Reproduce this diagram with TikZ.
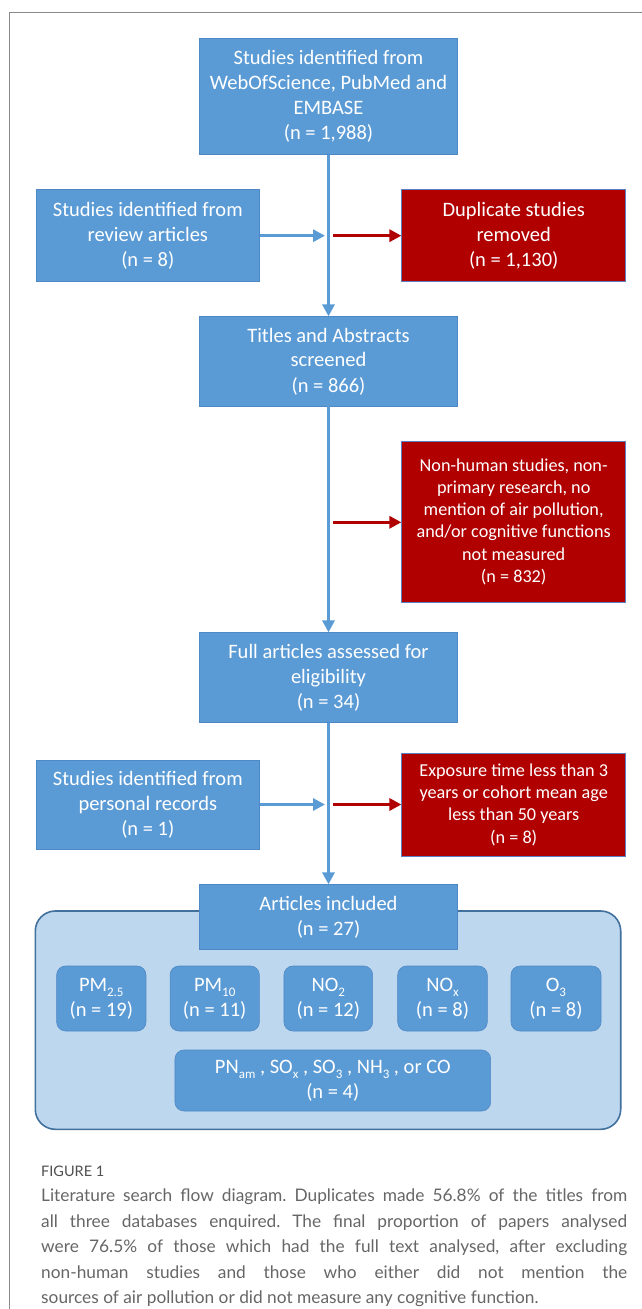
\documentclass[tikz,border=0pt]{standalone}
\usepackage{fontspec}
\setmainfont{Carlito}
\newfontfamily\capfont{Lato}
\usetikzlibrary{arrows.meta}
\definecolor{bluefill}{HTML}{5B9BD5}
\definecolor{blueedge}{HTML}{4F88C6}
\definecolor{redfill}{HTML}{B00000}
\definecolor{rededge}{HTML}{5B7FC0}
\definecolor{panelfill}{HTML}{BDD7EE}
\definecolor{paneledge}{HTML}{41719C}
\definecolor{framegray}{HTML}{8A8A8A}
\definecolor{capgray}{HTML}{666666}
\definecolor{figgray}{HTML}{505050}
\newcommand{\mysub}[1]{\raisebox{-0.28em}{\fontsize{13}{13}\selectfont #1}}
\frenchspacing
\tikzset{
  box/.style={fill=bluefill, draw=blueedge, line width=0.6pt, text=white, align=center,
    inner sep=0pt, font=\fontsize{20.5}{25}\selectfont},
  redbox/.style={fill=redfill, draw=rededge, line width=0.6pt, text=white, align=center,
    inner sep=0pt, font=\fontsize{18.2}{22.2}\selectfont},
  smallbox/.style={box, rounded corners=9pt, draw=blueedge},
  mainarrow/.style={draw=bluefill, line width=3.6pt, -{Triangle[length=12pt,width=12pt]}},
  bluearrow/.style={draw=bluefill, line width=3.4pt, -{Triangle[length=12pt,width=12pt]}},
  redarrow/.style={draw=redfill, line width=3.2pt, -{Triangle[length=12pt,width=12pt]}},
}
\begin{document}
\begin{tikzpicture}[x=1pt,y=-1pt]
\useasboundingbox (0,0) rectangle (641,1309);
\fill[white] (0,0) rectangle (641,1309);
% frame
\draw[framegray, line width=0.9pt] (9.3,1320) -- (9.3,12.7) -- (660,12.7);

% main column
\node[box, minimum width=258, minimum height=116] (b1) at (328.5,96.3)
  {Studies identified from\\WebOfScience, PubMed and\\EMBASE\\(n = 1,988)};
\node[box, minimum width=258, minimum height=89.3] (b2) at (328.5,361.3)
  {Titles and Abstracts\\screened\\(n = 866)};
\node[box, minimum width=258, minimum height=89.6] (b3) at (328.5,677.5)
  {Full articles assessed for\\eligibility\\(n = 34)};

% side boxes
\node[box, minimum width=223.7, minimum height=91.7] (l1) at (147.8,235.4)
  {Studies identified from\\review articles\\(n = 8)};
\node[redbox, font=\fontsize{20.5}{25}\selectfont, minimum width=224, minimum height=91.7] (r1) at (513.7,235.4)
  {Duplicate studies\\removed\\(n = 1,130)};
\node[redbox, minimum width=224, minimum height=161.3] (r2) at (513.7,521.7)
  {Non-human studies, non-\\primary research, no\\mention of air pollution,\\and/or cognitive functions\\not measured\\(n = 832)};
\node[box, minimum width=223.7, minimum height=89.3] (l3) at (147.8,804.7)
  {Studies identified from\\personal records\\(n = 1)};
\node[redbox, minimum width=224, minimum height=102.7] (r3) at (513.7,804.7)
  {Exposure time less than 3\\years or cohort mean age\\less than 50 years\\(n = 8)};

% panel
\draw[fill=panelfill, draw=paneledge, line width=1.6pt, rounded corners=20pt]
  (35.3,911) rectangle (620.7,1129.3);
\node[box, minimum width=258.4, minimum height=64.3] (b4) at (328.5,916.8)
  {Articles included\\(n = 27)};

\node[smallbox, minimum width=89.3, minimum height=65] (p1) at (101.3,998.5)
  {PM\mysub{2.5}\\(n = 19)};
\node[smallbox, minimum width=89.3, minimum height=65] (p2) at (214.7,998.5)
  {PM\mysub{10}\\(n = 11)};
\node[smallbox, minimum width=88.7, minimum height=65] (p3) at (328.3,998.5)
  {NO\mysub{2}\\(n = 12)};
\node[smallbox, minimum width=89.6, minimum height=65] (p4) at (442.5,998.5)
  {NO\mysub{x}\\(n = 8)};
\node[smallbox, minimum width=90, minimum height=65] (p5) at (556,998.5)
  {O\mysub{3}\\(n = 8)};
\node[smallbox, minimum width=315.7, minimum height=61] (p6) at (332.8,1080.5)
  {PN\mysub{am} , SO\mysub{x} , SO\mysub{3} , NH\mysub{3} , or CO\\(n = 4)};

% connectors
\coordinate (j1) at (328.5,235.7);
\coordinate (j2) at (328.5,522.3);
\coordinate (j3) at (328.5,804.5);
\draw[mainarrow] (b1.south) -- (b2.north);
\draw[mainarrow] (b2.south) -- (b3.north);
\draw[mainarrow] (b3.south) -- (b4.north);
\draw[bluearrow] (l1.east |- j1) -- ([xshift=-3.5pt]j1);
\draw[redarrow] ([xshift=4.5pt]j1) -- (r1.west |- j1);
\draw[redarrow] ([xshift=4.5pt]j2) -- (r2.west |- j2);
\draw[bluearrow] (l3.east |- j3) -- ([xshift=-3.5pt]j3);
\draw[redarrow] ([xshift=4.5pt]j3) -- (r3.west |- j3);

% caption
\node[anchor=base west, inner sep=0pt, text=figgray, font=\capfont\fontsize{14.5}{14.5}\selectfont] (fig) at (41,1176) {FIGURE 1};
\node[anchor=north west, inner sep=0pt, text width=586pt, align=justify, text=capgray,
  font=\capfont\fontsize{17.3}{25.5}\selectfont] (cap) at (41,1189)
  {Literature search flow diagram. Duplicates made 56.8\% of the titles from\linebreak
   all three databases enquired. The final proportion of papers analysed\linebreak
   were 76.5\% of those which had the full text analysed, after excluding\linebreak
   non-human studies and those who either did not mention the\linebreak
   sources of air pollution or did not measure any cognitive function.};
\end{tikzpicture}
\end{document}
